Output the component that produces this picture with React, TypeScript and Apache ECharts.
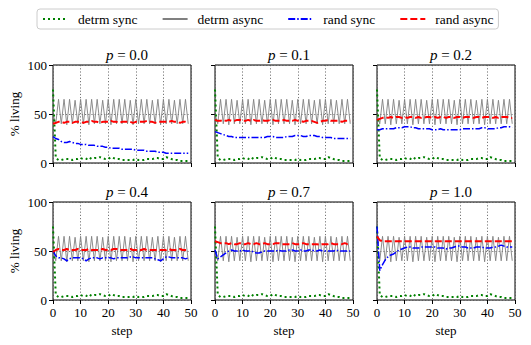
import React, { useEffect, useRef } from 'react';
import * as echarts from 'echarts';

const steps = [0, 1, 2, 3, 4, 5, 6, 7, 8, 9, 10, 11, 12, 13, 14, 15, 16, 17, 18, 19, 20, 21, 22, 23, 24, 25, 26, 27, 28, 29, 30, 31, 32, 33, 34, 35, 36, 37, 38, 39, 40, 41, 42, 43, 44, 45, 46, 47, 48, 49];
const panelLabels = ['0.0', '0.1', '0.2', '0.4', '0.7', '1.0'];
const seriesNames = ['detrm sync', 'detrm async', 'rand sync', 'rand async'];
const xTicks = [0, 10, 20, 30, 40, 50];
const yTicks = [0, 50, 100];

const detrmSync = [75, 5, 3, 3, 4, 4, 4, 3, 4, 4, 5, 4, 4, 6, 4, 5, 5, 6, 5, 4, 4, 6, 5, 4, 4, 3, 3, 3, 3, 3, 4, 3, 3, 3, 4, 4, 4, 5, 5, 4, 4, 6, 5, 4, 3, 3, 2, 2, 2, 2];
const detrmAsync = [50, 40, 65, 40, 65, 39, 65, 40, 64, 40, 65, 40, 65, 39, 65, 40, 65, 40, 64, 40, 65, 39, 65, 40, 65, 40, 65, 40, 64, 39, 65, 40, 65, 40, 65, 40, 64, 40, 65, 39, 65, 40, 65, 40, 64, 40, 65, 40, 65, 40];

const randSyncP00 = [27, 25, 24, 22, 21, 21, 22, 21, 20, 20, 19, 19, 19, 18, 18, 18, 17, 17, 17, 16, 16, 15, 15, 15, 15, 14, 14, 14, 14, 14, 13, 13, 13, 13, 12, 12, 12, 12, 11, 11, 11, 10, 10, 10, 10, 10, 10, 10, 10, 10];
const randSyncP01 = [32, 31, 30, 29, 28, 27, 27, 26, 26, 26, 26, 26, 26, 26, 26, 26, 26, 26, 26, 27, 27, 27, 26, 26, 26, 26, 27, 27, 27, 28, 28, 28, 27, 27, 28, 28, 28, 27, 27, 26, 26, 26, 26, 25, 25, 25, 25, 25, 25, 25];
const randSyncP02 = [34, 34, 35, 35, 35, 35, 35, 36, 36, 36, 37, 37, 37, 36, 36, 35, 35, 35, 35, 35, 34, 34, 34, 35, 34, 34, 34, 34, 34, 34, 34, 35, 35, 35, 35, 35, 35, 35, 36, 36, 35, 35, 35, 35, 36, 36, 37, 37, 37, 36];
const randSyncP04 = [50, 45, 43, 43, 42, 40, 42, 43, 43, 43, 43, 42, 40, 42, 43, 43, 43, 42, 43, 43, 43, 43, 42, 43, 43, 43, 43, 43, 44, 44, 43, 43, 43, 43, 43, 43, 43, 42, 41, 40, 42, 44, 44, 43, 43, 43, 43, 43, 42, 43];
const randSyncP07 = [51, 42, 44, 46, 48, 50, 51, 50, 50, 50, 51, 50, 50, 50, 49, 48, 48, 49, 50, 50, 50, 50, 50, 51, 50, 50, 50, 51, 51, 50, 50, 51, 50, 50, 51, 51, 50, 50, 51, 50, 50, 50, 50, 50, 51, 50, 50, 50, 50, 50];
const randSyncP10 = [75, 30, 36, 41, 44, 46, 47, 49, 51, 52, 53, 54, 54, 53, 53, 53, 54, 54, 54, 54, 54, 54, 53, 53, 53, 52, 53, 53, 54, 55, 55, 54, 54, 53, 53, 53, 54, 54, 54, 53, 53, 53, 54, 54, 55, 56, 55, 54, 54, 54];

const randAsyncP00 = [40, 41, 42, 42, 41, 42, 42, 41, 42, 42, 42, 41, 42, 42, 43, 42, 42, 41, 42, 42, 42, 43, 42, 42, 41, 42, 42, 42, 42, 41, 42, 42, 42, 42, 43, 42, 42, 41, 42, 42, 42, 42, 42, 43, 42, 42, 41, 42, 42, 41];
const randAsyncP01 = [44, 43, 43, 44, 43, 44, 43, 43, 44, 44, 43, 43, 44, 43, 44, 43, 43, 44, 43, 43, 44, 44, 43, 43, 43, 44, 43, 43, 43, 44, 43, 43, 42, 43, 43, 43, 42, 41, 42, 43, 43, 44, 43, 43, 43, 43, 42, 43, 43, 43];
const randAsyncP02 = [44, 45, 46, 47, 46, 47, 46, 47, 47, 46, 47, 46, 47, 47, 46, 47, 46, 46, 47, 47, 46, 47, 46, 47, 47, 46, 47, 47, 46, 47, 47, 46, 47, 47, 47, 46, 47, 47, 46, 47, 47, 47, 46, 47, 46, 47, 47, 47, 46, 46];
const randAsyncP04 = [49, 51, 52, 51, 51, 52, 51, 51, 51, 52, 51, 51, 51, 52, 51, 51, 51, 51, 52, 51, 51, 51, 52, 52, 51, 51, 51, 51, 52, 51, 51, 51, 51, 52, 51, 51, 51, 51, 51, 51, 51, 51, 52, 51, 51, 51, 52, 51, 51, 51];
const randAsyncP07 = [60, 59, 58, 58, 58, 57, 58, 57, 57, 58, 57, 57, 58, 57, 57, 58, 57, 57, 58, 57, 57, 57, 58, 58, 57, 57, 57, 57, 58, 57, 57, 57, 58, 57, 57, 57, 57, 57, 56, 57, 57, 57, 58, 57, 57, 57, 57, 58, 57, 57];
const randAsyncP10 = [65, 61, 60, 60, 60, 60, 60, 60, 60, 60, 60, 60, 60, 60, 60, 60, 60, 60, 60, 60, 60, 60, 60, 60, 60, 60, 60, 60, 60, 60, 60, 60, 60, 60, 60, 60, 60, 60, 60, 60, 60, 60, 60, 60, 60, 60, 60, 60, 60, 60];

const randSyncAll = [randSyncP00, randSyncP01, randSyncP02, randSyncP04, randSyncP07, randSyncP10];
const randAsyncAll = [randAsyncP00, randAsyncP01, randAsyncP02, randAsyncP04, randAsyncP07, randAsyncP10];

const FONT = 'Liberation Serif';

function pairs(vals: number[]) {
  return steps.map((s, i) => [s, vals[i]]);
}

export default function App() {
  const ref = useRef<HTMLDivElement>(null);
  useEffect(() => {
    const chart = echarts.init(ref.current!, null, { renderer: 'svg' });
    const lefts = [53, 215, 377];
    const tops = [65, 202];
    const W = 138;
    const H = 98;
    const grids: any[] = [];
    const xAxes: any[] = [];
    const yAxes: any[] = [];
    const series: any[] = [];
    const titles: any[] = [];
    const gridLine = { show: true, lineStyle: { type: [1.2, 2], color: '#555', width: 0.8 } };
    panelLabels.forEach((lab, i) => {
      const col = i % 3;
      const row = Math.floor(i / 3);
      grids.push({ left: lefts[col], top: tops[row], width: W, height: H, show: true, borderColor: '#000', borderWidth: 1, backgroundColor: 'transparent' });
      titles.push({
        text: '{i|p} = ' + lab,
        left: lefts[col] + W / 2,
        top: tops[row] - 23,
        textAlign: 'center',
        textStyle: { fontFamily: FONT, fontSize: 15, fontWeight: 'normal', color: '#000', rich: { i: { fontStyle: 'italic', fontFamily: FONT, fontSize: 15, color: '#000' } } },
      });
      xAxes.push({
        gridIndex: i, type: 'value', min: xTicks[0], max: xTicks[xTicks.length - 1], interval: 10,
        axisLine: { show: false },
        axisTick: { show: true, inside: false, length: 4, lineStyle: { color: '#000', width: 1 } },
        axisLabel: { show: row === 1, margin: 6, fontFamily: FONT, fontSize: 13, color: '#000' },
        splitLine: gridLine,
        name: row === 1 ? 'step' : '', nameLocation: 'middle', nameGap: 24,
        nameTextStyle: { fontFamily: FONT, fontSize: 13, color: '#000' },
      });
      yAxes.push({
        gridIndex: i, type: 'value', min: yTicks[0], max: yTicks[yTicks.length - 1], interval: 50,
        axisLine: { show: false },
        axisTick: { show: true, inside: false, length: 4, lineStyle: { color: '#000', width: 1 } },
        axisLabel: { show: col === 0, margin: 6, fontFamily: FONT, fontSize: 13, color: '#000' },
        splitLine: gridLine,
        name: col === 0 ? '% living' : '', nameLocation: 'middle', nameGap: 32, nameRotate: 90,
        nameTextStyle: { fontFamily: FONT, fontSize: 13, color: '#000' },
      });
      series.push({
        name: seriesNames[0], type: 'line', xAxisIndex: i, yAxisIndex: i, data: pairs(detrmSync), symbol: 'none',
        lineStyle: { color: '#008000', width: 2, type: [2, 3] }, itemStyle: { color: '#008000' }, z: 3,
      });
      series.push({
        name: seriesNames[1], type: 'line', xAxisIndex: i, yAxisIndex: i, data: pairs(detrmAsync), symbol: 'none',
        lineStyle: { color: '#808080', width: 0.9, type: 'solid' }, itemStyle: { color: '#808080' }, z: 2,
      });
      series.push({
        name: seriesNames[2], type: 'line', xAxisIndex: i, yAxisIndex: i, data: pairs(randSyncAll[i]), symbol: 'none',
        lineStyle: { color: '#0000ff', width: 1.5, type: [7, 2, 1.5, 2] }, itemStyle: { color: '#0000ff' }, z: 4,
      });
      series.push({
        name: seriesNames[3], type: 'line', xAxisIndex: i, yAxisIndex: i, data: pairs(randAsyncAll[i]), symbol: 'none',
        lineStyle: { color: '#ff0000', width: 2, type: [7, 3] }, itemStyle: { color: '#ff0000' }, z: 5,
      });
    });
    chart.setOption({
      animation: false,
      backgroundColor: '#fff',
      title: titles,
      legend: {
        data: seriesNames,
        left: 37, top: 9,
        padding: [3, 5, 3, 5],
        itemGap: 24, itemWidth: 25, itemHeight: 14,
        itemStyle: { opacity: 0, borderWidth: 0 },
        borderColor: '#ccc', borderWidth: 1, borderRadius: 3,
        textStyle: { fontFamily: FONT, fontSize: 13.5, color: '#000', padding: [0, 0, 0, 5] },
      },
      grid: grids,
      xAxis: xAxes,
      yAxis: yAxes,
      series,
    });
    return () => chart.dispose();
  }, []);
  return <div ref={ref} style={{ position: 'fixed', left: 0, top: 0, width: 531, height: 345 }} />;
}
